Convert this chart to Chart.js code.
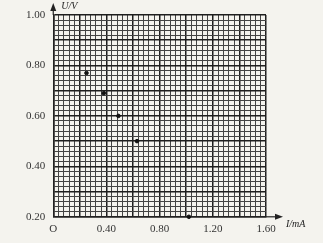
<!DOCTYPE html>
<html>
<head>
<meta charset="utf-8">
<script src="https://cdn.jsdelivr.net/npm/chart.js@4.4.0/dist/chart.umd.min.js"></script>
<style>
  html, body { margin: 0; padding: 0; background: #f4f3ee; }
  #wrap { width: 323px; height: 243px; }
</style>
</head>
<body>
<div id="wrap"><canvas id="ivChart" width="323" height="243"></canvas></div>
<script>
// measured points, I in mA and U in V
const currentI = [0.25, 0.38, 0.49, 0.63, 1.02];
const voltageU = [0.77, 0.69, 0.60, 0.50, 0.20];

const xMin = 0, xMax = 1.6, xStep = 0.04;
const yMin = 0.2, yMax = 1.0, yStep = 0.02;
const xTitle = 'I/mA';
const yTitle = 'U/V';

const serif = '"Liberation Serif", "Times New Roman", serif';

// arrows + axis names, placed from the scales
const axisDecor = {
  id: 'axisDecor',
  afterDraw(chart) {
    const ctx = chart.ctx;
    const xs = chart.scales.x, ys = chart.scales.y;
    const x0 = xs.getPixelForValue(xMin);
    const x1 = xs.getPixelForValue(xMax);
    const y0 = ys.getPixelForValue(yMin);
    const y1 = ys.getPixelForValue(yMax);
    ctx.save();
    ctx.strokeStyle = '#222';
    ctx.fillStyle = '#222';
    ctx.lineWidth = 1.2;
    // x arrow
    ctx.beginPath();
    ctx.moveTo(x1, y0);
    ctx.lineTo(x1 + 14, y0);
    ctx.stroke();
    ctx.beginPath();
    ctx.moveTo(x1 + 17, y0);
    ctx.lineTo(x1 + 9, y0 - 3);
    ctx.lineTo(x1 + 9, y0 + 3);
    ctx.closePath();
    ctx.fill();
    // y arrow
    ctx.beginPath();
    ctx.moveTo(x0, y1);
    ctx.lineTo(x0, y1 - 9);
    ctx.stroke();
    ctx.beginPath();
    ctx.moveTo(x0, y1 - 12);
    ctx.lineTo(x0 - 3, y1 - 4);
    ctx.lineTo(x0 + 3, y1 - 4);
    ctx.closePath();
    ctx.fill();
    // axis names
    ctx.font = 'italic 10px ' + serif;
    ctx.textBaseline = 'middle';
    ctx.textAlign = 'left';
    ctx.fillText(yTitle, x0 + 8, y1 - 9);
    ctx.fillText(xTitle, x1 + 20, y0 + 8);
    ctx.restore();
  }
};

function xMajor(v) { return Math.round(v * 100) % 20 === 0; }
function yMajor(v) { return Math.round(v * 100) % 10 === 0; }

new Chart(document.getElementById('ivChart'), {
  type: 'scatter',
  data: {
    datasets: [{
      data: currentI.map((v, i) => ({ x: v, y: voltageU[i] })),
      backgroundColor: '#111',
      borderColor: '#111',
      pointRadius: 1.8,
      pointHoverRadius: 1.8,
      clip: false
    }]
  },
  options: {
    responsive: false,
    animation: false,
    events: [],
    layout: { padding: { left: 18, right: 57, top: 15, bottom: 1 } },
    plugins: { legend: { display: false }, tooltip: { enabled: false } },
    scales: {
      x: {
        type: 'linear',
        min: xMin,
        max: xMax,
        border: { color: '#222', width: 1.5 },
        grid: {
          drawTicks: false,
          color: c => xMajor(c.tick.value) ? '#1e1e1e' : '#444',
          lineWidth: c => xMajor(c.tick.value) ? 1.5 : 1
        },
        ticks: {
          stepSize: xStep,
          autoSkip: false,
          maxRotation: 0,
          padding: 6,
          color: '#333',
          font: { family: serif, size: 11 },
          callback: v => {
            const k = Math.round(v * 100);
            if (k === 0) return 'O';
            return k % 40 === 0 ? v.toFixed(2) : '';
          }
        }
      },
      y: {
        type: 'linear',
        min: yMin,
        max: yMax,
        border: { color: '#222', width: 1.5 },
        grid: {
          drawTicks: false,
          color: c => yMajor(c.tick.value) ? '#1e1e1e' : '#444',
          lineWidth: c => yMajor(c.tick.value) ? 1.5 : 1
        },
        ticks: {
          stepSize: yStep,
          autoSkip: false,
          padding: 8,
          color: '#333',
          font: { family: serif, size: 11 },
          callback: v => Math.round(v * 100) % 20 === 0 ? v.toFixed(2) : ''
        }
      }
    }
  },
  plugins: [axisDecor]
});
</script>
</body>
</html>
